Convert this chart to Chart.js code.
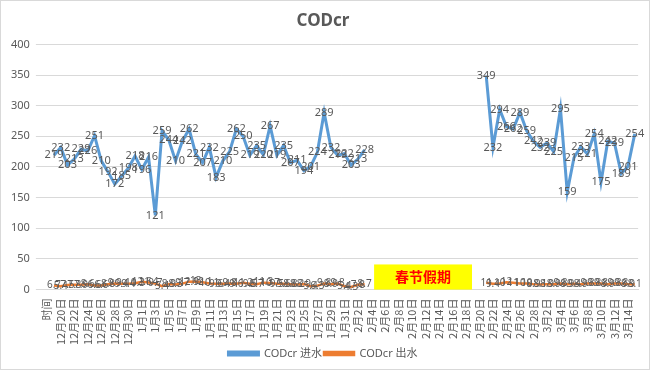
<!DOCTYPE html>
<html>
<head>
<meta charset="utf-8">
<script src="https://cdn.jsdelivr.net/npm/chart.js@4"></script>
<style>
  body { margin: 0; background: #fff; }
  #wrap { width: 648px; height: 368px; border: 1px solid #d9d9d9; }
</style>
</head>
<body>
<div id="wrap"><canvas id="codChart" width="648" height="368"></canvas></div>
<script>
// 日期标签 (12月19日 - 3月15日), 第一个是 "时间"
var months = [[12, 19, 31], [1, 1, 31], [2, 1, 28], [3, 1, 15]];
var labels = ['时间'];
months.forEach(function (m) {
    for (var d = m[1]; d <= m[2]; d++) labels.push(m[0] + '月' + d + '日');
});

// 进水 12/19 - 2/3
var inflowA = [219, 232, 203, 213, 229, 226, 251, 210, 192, 172, 185, 198, 218, 196, 216, 121,
    259, 244, 210, 242, 262, 221, 207, 232, 183, 210, 225, 262, 250, 219, 235, 220, 267, 219,
    235, 207, 211, 194, 201, 224, 289, 232, 219, 222, 203, 213, 228];
// 进水 2/21 - 3/15
var inflowB = [349, 232, 294, 266, 262, 289, 259, 242, 232, 239, 225, 295, 159, 215, 233, 221,
    254, 175, 242, 239, 189, 201, 254];
// 出水
var outflowA = [6.7, 5.4, 7.5, 7.8, 7.9, 8.6, 6.6, 6.6, 8.8, 9.9, 9.4, 9.4, 10.3, 12.6, 11.4, 9.7,
    5.4, 8.9, 8.3, 9.7, 12.9, 13.0, 12.1, 10.1, 9.6, 9.4, 9.8, 9.6, 11.2, 9.5, 8.7, 11.3, 10.7,
    9.5, 9.6, 8.8, 8.2, 8.9, 5.4, 6.3, 9.8, 8.9, 9.8, 5.4, 4.3, 7.8, 8.7];
var outflowB = [11, 9.4, 10, 12, 11, 10, 10, 8.9, 8.1, 8.9, 8.9, 9.8, 8.9, 9.4, 8.9, 9.8, 9.8,
    9.8, 8.9, 9.8, 9.8, 8.9, 8.1];
var holidayDays = 17; // 2/4 - 2/20 无数据
var yTicks = [0, 50, 100, 150, 200, 250, 300, 350, 400];

function gap(n) { var a = []; for (var i = 0; i < n; i++) a.push(null); return a; }
var inflow = [null].concat(inflowA, gap(holidayDays), inflowB);
var outflow = [null].concat(outflowA, gap(holidayDays), outflowB);

var fontFam = "'Noto Sans', 'Noto Sans CJK SC', sans-serif";

// 数据标签 + 春节假期框
var labelPlugin = {
    id: 'pointLabels',
    afterDatasetsDraw: function (chart) {
        var ctx = chart.ctx;
        var x = chart.scales.x, y = chart.scales.y;
        // 春节假期
        var left = x.getPixelForValue(48.4), right = x.getPixelForValue(62.9);
        var top = y.getPixelForValue(41), bottom = y.getPixelForValue(0);
        ctx.save();
        ctx.fillStyle = '#ffff00';
        ctx.fillRect(left, top, right - left, bottom - top);
        ctx.fillStyle = '#ff0000';
        ctx.font = "bold 14px 'Noto Sans CJK SC', sans-serif";
        ctx.textAlign = 'center';
        ctx.textBaseline = 'middle';
        ctx.fillText('春节假期', (left + right) / 2, (top + bottom) / 2);
        ctx.restore();

        ctx.save();
        ctx.fillStyle = '#595959';
        ctx.textAlign = 'center';
        ctx.textBaseline = 'middle';
        chart.data.datasets.forEach(function (ds, i) {
            ctx.font = (i === 0 ? '11px ' : '10px ') + fontFam;
            var meta = chart.getDatasetMeta(i);
            meta.data.forEach(function (pt, j) {
                if (ds.data[j] == null) return;
                ctx.fillText(String(ds.data[j]), pt.x, pt.y);
            });
        });
        ctx.restore();
    }
};

var ctx1 = document.getElementById('codChart').getContext('2d');
var codChart = new Chart(ctx1, {
    type: 'line',
    data: {
        labels: labels,
        datasets: [{
            label: 'CODcr 进水',
            data: inflow,
            borderColor: '#5b9bd5',
            backgroundColor: '#5b9bd5',
            borderWidth: 3,
            pointRadius: 0,
            tension: 0,
            spanGaps: false
        }, {
            label: 'CODcr 出水',
            data: outflow,
            borderColor: '#ed7d31',
            backgroundColor: '#ed7d31',
            borderWidth: 2.5,
            pointRadius: 0,
            tension: 0,
            spanGaps: false
        }]
    },
    options: {
        responsive: false,
        animation: false,
        layout: { padding: { left: 4, right: 8, top: 6, bottom: 0 } },
        plugins: {
            title: {
                display: true,
                text: 'CODcr',
                color: '#595959',
                font: { family: fontFam, size: 17, weight: 'bold' },
                padding: { top: 4, bottom: 13 }
            },
            legend: {
                position: 'bottom',
                labels: {
                    boxWidth: 30,
                    boxHeight: 3,
                    color: '#595959',
                    font: { family: fontFam, size: 11 },
                    padding: 2
                }
            },
            tooltip: { enabled: false }
        },
        scales: {
            x: {
                offset: true,
                grid: { display: false },
                border: { color: '#d9d9d9' },
                ticks: {
                    autoSkip: false,
                    minRotation: 90,
                    maxRotation: 90,
                    color: '#595959',
                    font: { family: "'Noto Sans CJK SC', sans-serif", size: 11 },
                    padding: 1,
                    callback: function (v, i) { return i % 2 === 0 ? labels[i] : ''; }
                }
            },
            y: {
                min: 0,
                max: 400,
                afterBuildTicks: function (s) { s.ticks = yTicks.map(function (v) { return { value: v }; }); },
                grid: { color: '#d9d9d9' },
                border: { display: false },
                ticks: {
                    color: '#595959',
                    font: { family: fontFam, size: 11 },
                    padding: 6
                }
            }
        }
    },
    plugins: [labelPlugin]
});
</script>
</body>
</html>
